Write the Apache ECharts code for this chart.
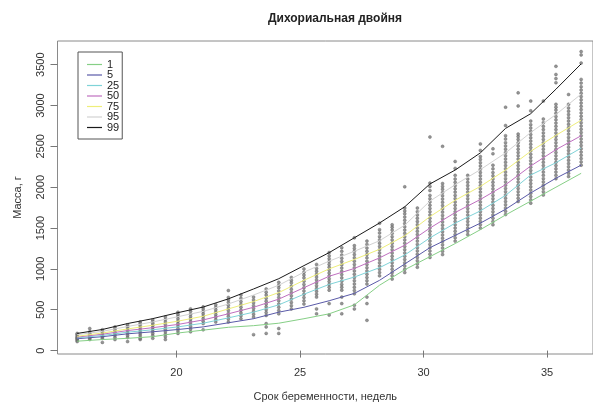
<!DOCTYPE html>
<html>
<head>
<meta charset="utf-8">
<script src="https://cdn.jsdelivr.net/npm/echarts@6/dist/echarts.min.js"></script>
<style>html,body{margin:0;padding:0;background:#fff}#c{width:593px;height:407px}</style>
</head>
<body>
<div id="c"></div>
<script>
// ---- data ----
const xTicks = [20, 25, 30, 35];
const yTicks = [0, 500, 1000, 1500, 2000, 2500, 3000, 3500];
const percentiles = ['1', '5', '25', '50', '75', '95', '99'];

// gestational age (weeks) at which the percentile curves are drawn
const curveWeeks = [15.98, 17.0, 18.02, 19.04, 20.06, 21.08, 22.10, 23.12, 24.14, 25.16, 26.18, 27.20, 28.22, 29.24, 30.26, 31.28, 32.30, 33.32, 34.34, 35.36, 36.38];
const p1  = [115, 135, 150, 170, 215, 250, 285, 305, 335, 390, 450, 560, 800, 990, 1150, 1310, 1480, 1660, 1830, 2000, 2170];
const p5  = [145, 170, 205, 230, 258, 290, 340, 390, 470, 530, 610, 700, 860, 1060, 1260, 1410, 1560, 1730, 1930, 2110, 2270];
const p25 = [155, 185, 225, 255, 290, 335, 400, 470, 560, 690, 810, 900, 1015, 1170, 1380, 1560, 1710, 1900, 2150, 2300, 2480];
const p50 = [165, 200, 245, 280, 320, 375, 450, 530, 630, 770, 910, 1005, 1135, 1290, 1500, 1690, 1850, 2030, 2260, 2460, 2630];
const p75 = [175, 215, 265, 310, 360, 420, 510, 600, 710, 860, 1000, 1115, 1240, 1405, 1640, 1840, 2010, 2210, 2440, 2635, 2820];
const p95 = [195, 235, 295, 350, 415, 480, 570, 680, 800, 960, 1095, 1215, 1345, 1535, 1830, 2030, 2215, 2420, 2670, 2890, 3140];
const p99 = [210, 258, 331, 391, 464, 533, 633, 754, 880, 1040, 1199, 1381, 1562, 1760, 2040, 2210, 2420, 2720, 2900, 3200, 3510];

// observation columns (weeks) and masses (g) observed in each column
const obsWeeks = [15.98, 16.49, 17.0, 17.51, 18.02, 18.53, 19.04, 19.55, 20.06, 20.57, 21.08, 21.59, 22.10, 22.61, 23.12, 23.63, 24.14, 24.65, 25.16, 25.67, 26.18, 26.69, 27.20, 27.71, 28.22, 28.73, 29.24, 29.75, 30.26, 30.77, 31.28, 31.79, 32.30, 32.81, 33.32, 33.83, 34.34, 34.85, 35.36, 35.87, 36.38];
const obsMass = [
  [110, 125, 140, 150, 160, 170, 185, 200, 210],
  [135, 150, 165, 180, 195, 210, 230, 270],
  [100, 150, 165, 180, 200, 215, 235, 255],
  [135, 160, 185, 205, 225, 250, 270, 290],
  [110, 160, 185, 210, 230, 255, 280, 300, 315],
  [135, 150, 180, 205, 230, 255, 280, 305, 330, 350],
  [150, 185, 210, 235, 260, 285, 310, 335, 355, 375],
  [135, 170, 200, 230, 260, 290, 320, 350, 380, 410],
  [210, 240, 270, 300, 330, 360, 390, 420, 445, 470],
  [230, 265, 295, 325, 355, 385, 415, 445, 480, 510],
  [255, 330, 360, 390, 420, 450, 480, 510, 535],
  [350, 380, 410, 440, 470, 500, 530, 560],
  [350, 385, 420, 455, 490, 520, 555, 590, 620, 650, 735],
  [390, 425, 460, 495, 530, 565, 600, 640, 680],
  [195, 410, 445, 480, 515, 550, 585, 620, 655],
  [210, 290, 330, 430, 465, 500, 535, 570, 605, 640, 680, 715, 755],
  [210, 270, 450, 490, 530, 570, 610, 650, 690, 730, 770, 800, 835],
  [510, 550, 590, 630, 670, 710, 750, 790, 830, 860, 895],
  [570, 610, 650, 690, 730, 770, 810, 850, 890, 925, 960, 1000],
  [450, 510, 655, 690, 725, 760, 795, 830, 865, 900, 935, 970, 1005, 1055],
  [435, 575, 740, 775, 810, 845, 880, 915, 950, 985, 1020, 1055, 1090, 1125, 1160, 1200],
  [450, 575, 655, 740, 775, 810, 850, 890, 930, 970, 1010, 1050, 1090, 1130, 1170, 1215, 1260],
  [510, 555, 695, 735, 775, 815, 855, 895, 935, 975, 1015, 1055, 1095, 1135, 1175, 1215, 1250, 1285, 1380],
  [370, 575, 655, 815, 855, 895, 935, 975, 1015, 1055, 1095, 1135, 1175, 1215, 1255, 1300, 1340],
  [915, 955, 995, 1035, 1075, 1115, 1155, 1195, 1235, 1275, 1315, 1355, 1395, 1440, 1480, 1560],
  [875, 915, 955, 995, 1035, 1075, 1115, 1155, 1195, 1235, 1275, 1315, 1355, 1395, 1435, 1475, 1510, 1540],
  [955, 995, 1035, 1075, 1115, 1155, 1195, 1235, 1275, 1315, 1355, 1395, 1435, 1475, 1515, 1555, 1595, 1635, 1675, 1710, 1745, 2005],
  [1020, 1060, 1100, 1140, 1180, 1220, 1260, 1300, 1340, 1380, 1420, 1460, 1500, 1540, 1580, 1620, 1660, 1700, 1745],
  [1140, 1180, 1220, 1260, 1300, 1340, 1380, 1420, 1460, 1500, 1540, 1580, 1620, 1660, 1700, 1740, 1780, 1820, 1860, 1900, 1960, 2010, 2050, 2615],
  [1175, 1215, 1255, 1295, 1335, 1375, 1415, 1455, 1495, 1535, 1575, 1615, 1655, 1695, 1735, 1775, 1815, 1855, 1895, 1935, 1975, 2010, 2045, 2500],
  [1340, 1380, 1420, 1460, 1500, 1540, 1580, 1620, 1660, 1700, 1740, 1780, 1820, 1860, 1900, 1940, 1980, 2020, 2060, 2100, 2145, 2230, 2315],
  [1420, 1460, 1500, 1540, 1580, 1620, 1660, 1700, 1740, 1780, 1820, 1860, 1900, 1940, 1980, 2020, 2060, 2100, 2145],
  [1500, 1540, 1580, 1620, 1660, 1700, 1740, 1780, 1820, 1860, 1900, 1940, 1980, 2020, 2060, 2100, 2140, 2180, 2220, 2260, 2300, 2340, 2375, 2450, 2530],
  [1540, 1580, 1620, 1660, 1700, 1740, 1780, 1820, 1860, 1900, 1940, 1980, 2020, 2060, 2100, 2140, 2180, 2225, 2270, 2410, 2470],
  [1665, 1705, 1745, 1785, 1825, 1865, 1905, 1945, 1985, 2025, 2065, 2105, 2145, 2185, 2225, 2265, 2305, 2345, 2385, 2425, 2465, 2505, 2545, 2590, 2630, 2755, 2980],
  [1825, 1865, 1905, 1945, 1985, 2025, 2065, 2105, 2145, 2185, 2225, 2265, 2305, 2345, 2385, 2425, 2465, 2505, 2545, 2585, 2620, 2650, 2995, 3155],
  [1805, 1845, 1885, 1925, 1965, 2005, 2045, 2085, 2125, 2165, 2205, 2245, 2285, 2325, 2365, 2405, 2445, 2485, 2525, 2565, 2605, 2645, 2685, 2725, 2765, 2810, 2935, 3055],
  [1905, 1945, 1985, 2025, 2065, 2105, 2145, 2185, 2225, 2265, 2305, 2345, 2385, 2425, 2465, 2505, 2545, 2585, 2625, 2665, 2705, 2745, 2790, 2835, 3055],
  [2105, 2145, 2185, 2225, 2265, 2305, 2345, 2385, 2425, 2465, 2505, 2545, 2585, 2625, 2665, 2705, 2745, 2785, 2825, 2865, 2905, 2945, 2980, 3015, 3280, 3330, 3380, 3480],
  [2130, 2170, 2210, 2250, 2290, 2330, 2370, 2410, 2450, 2490, 2530, 2570, 2610, 2650, 2690, 2730, 2770, 2810, 2850, 2890, 2930, 2970, 3015, 3135],
  [2270, 2310, 2350, 2390, 2430, 2470, 2510, 2550, 2590, 2630, 2670, 2710, 2750, 2790, 2830, 2870, 2910, 2950, 2990, 3030, 3070, 3110, 3150, 3190, 3230, 3275, 3320, 3520, 3620, 3660]
];

// ---- chart ----
const curveColors = ['#86cf86', '#5a5aa8', '#7fd3d8', '#c070c0', '#eeee7a', '#d2d2d2', '#1a1a1a'];
const curves = [p1, p5, p25, p50, p75, p95, p99];

const scatterData = [];
obsWeeks.forEach((w, i) => obsMass[i].forEach(m => scatterData.push([w, m])));

const series = [{
  type: 'scatter',
  name: 'obs',
  data: scatterData,
  symbolSize: 3,
  itemStyle: { color: '#7a7a7a', borderColor: '#5e5e5e', borderWidth: 0.5 },
  silent: true,
  z: 1
}];
curves.forEach((c, k) => {
  series.push({
    type: 'line',
    name: percentiles[k],
    data: curveWeeks.map((w, i) => [w, c[i]]),
    showSymbol: false,
    symbol: 'none',
    lineStyle: { color: curveColors[k], width: 1 },
    itemStyle: { color: curveColors[k] },
    z: 2
  });
});

const font = 'Liberation Sans, Arial, sans-serif';
const chart = echarts.init(document.getElementById('c'), null, { renderer: 'canvas' });
chart.setOption({
  animation: false,
  backgroundColor: '#fff',
  title: {
    text: 'Дихориальная двойня',
    left: 330, top: 8, textAlign: 'center',
    textStyle: { fontFamily: font, fontSize: 12, fontWeight: 'bold', color: '#222' }
  },
  legend: {
    data: percentiles,
    orient: 'vertical',
    left: 78, top: 52,
    padding: [7, 3, 6, 9],
    itemWidth: 15, itemHeight: 1.2, itemGap: -0.5,
    itemStyle: { borderWidth: 0 },
    icon: 'rect',
    itemTextGap: 11,
    borderColor: '#555', borderWidth: 1,
    textStyle: { fontFamily: font, fontSize: 11, color: '#222', lineHeight: 10 },
    selectedMode: false
  },
  grid: { left: 57.5, right: -1, top: 41, bottom: 49.5, show: true, borderColor: '#8a8a8a', borderWidth: 1, containLabel: false },
  xAxis: {
    type: 'value', min: 15.184, max: 36.86,
    name: 'Срок беременности, недель', nameLocation: 'middle', nameGap: 37,
    nameTextStyle: { fontFamily: font, fontSize: 11, color: '#333' },
    axisLine: { show: false },
    splitLine: { show: false },
    axisTick: { show: true, customValues: xTicks, length: 7, inside: false, lineStyle: { color: '#777' } },
    axisLabel: { customValues: xTicks, margin: 13, fontFamily: font, fontSize: 11, color: '#333', formatter: v => String(v) }
  },
  yAxis: {
    type: 'value', min: -42, max: 3790,
    name: 'Масса, г', nameLocation: 'middle', nameGap: 34,
    nameTextStyle: { fontFamily: font, fontSize: 11, color: '#333' },
    axisLine: { show: false },
    splitLine: { show: false },
    axisTick: { show: true, customValues: yTicks, length: 7, inside: false, lineStyle: { color: '#777' } },
    axisLabel: { customValues: yTicks, rotate: 90, margin: 11, fontFamily: font, fontSize: 11, color: '#333', formatter: v => String(v) }
  },
  series: series
});
</script>
</body>
</html>
